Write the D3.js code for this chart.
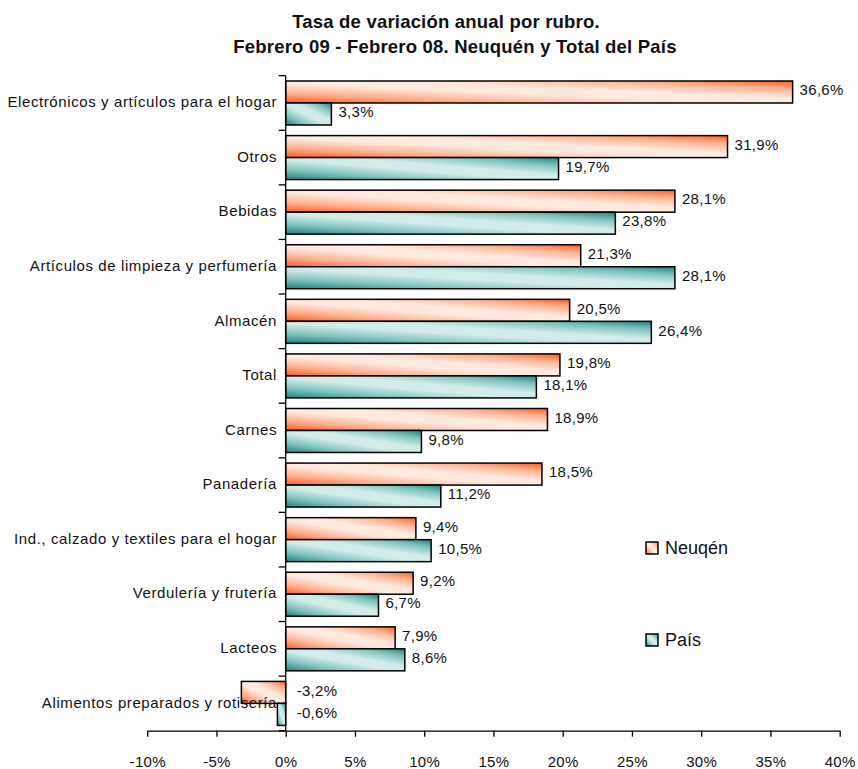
<!DOCTYPE html>
<html>
<head>
<meta charset="utf-8">
<style>
  body { margin: 0; background: #fff; }
  svg text { font-family: "Liberation Sans", Arial, sans-serif; fill: #111; }
  .cat { font-size: 15px; letter-spacing: 0.6px; }
  .val { font-size: 15px; letter-spacing: 0.3px; }
  .tick text { font-size: 15px; letter-spacing: 0.3px; }
  .title { font-size: 18.5px; font-weight: bold; letter-spacing: 0.2px; }
  .legend { font-size: 18px; }
</style>
</head>
<body>
<div id="chart"></div>
<script src="https://cdn.jsdelivr.net/npm/d3@7"></script>
<script>
// data
var categories = [
  "Electrónicos y artículos para el hogar",
  "Otros",
  "Bebidas",
  "Artículos de limpieza y perfumería",
  "Almacén",
  "Total",
  "Carnes",
  "Panadería",
  "Ind., calzado y textiles para el hogar",
  "Verdulería y frutería",
  "Lacteos",
  "Alimentos preparados y rotisería"
];
var neuquen = [36.6, 31.9, 28.1, 21.3, 20.5, 19.8, 18.9, 18.5, 9.4, 9.2, 7.9, -3.2];
var pais    = [3.3, 19.7, 23.8, 28.1, 26.4, 18.1, 9.8, 11.2, 10.5, 6.7, 8.6, -0.6];
var seriesNames = ["Neuqén", "País"];
var xTicks = [-10, -5, 0, 5, 10, 15, 20, 25, 30, 35, 40];

var width = 858, height = 769;
var svg = d3.select("#chart").append("svg")
    .attr("width", width)
    .attr("height", height);

var x = d3.scaleLinear().domain([-10, 40]).range([147.2, 839.7]);
var y = d3.scaleBand().domain(categories).range([75.7, 730.7]);
var ySub = d3.scaleBand().domain(seriesNames).range([5.3, y.bandwidth() - 5.3]);

// gradients, diagonal: dark corners, light middle
var defs = svg.append("defs");
var grads = [
  {id: "gN", dark: "#ff5a1f", mid: "#ffb08e", light: "#ffeae0"},
  {id: "gP", dark: "#1f7f7d", mid: "#7dc2bd", light: "#d2ece9"}
];
grads.forEach(function(g){
  var lg = defs.append("linearGradient")
    .attr("id", g.id)
    .attr("x1", 0).attr("y1", 1).attr("x2", 1).attr("y2", 0);
  lg.append("stop").attr("offset", "0%").attr("stop-color", g.dark);
  lg.append("stop").attr("offset", "22%").attr("stop-color", g.mid);
  lg.append("stop").attr("offset", "45%").attr("stop-color", g.light);
  lg.append("stop").attr("offset", "60%").attr("stop-color", g.light);
  lg.append("stop").attr("offset", "82%").attr("stop-color", g.mid);
  lg.append("stop").attr("offset", "100%").attr("stop-color", g.dark);
});

var rows = categories.map(function(c, i){
  return {cat: c, vals: [
    {s: seriesNames[0], v: neuquen[i], fill: "url(#gN)"},
    {s: seriesNames[1], v: pais[i], fill: "url(#gP)"}
  ]};
});

var fmt = function(v){
  return d3.format(".1f")(v).replace(".", ",").replace("\u2212", "-") + "%";
};

// bars
var g = svg.selectAll(".row")
  .data(rows)
  .enter().append("g")
    .attr("class", "row")
    .attr("transform", function(d){ return "translate(0," + y(d.cat) + ")"; });

g.selectAll("rect")
  .data(function(d){ return d.vals; })
  .enter().append("rect")
    .attr("x", function(d){ return x(Math.min(0, d.v)); })
    .attr("y", function(d){ return ySub(d.s); })
    .attr("width", function(d){ return Math.abs(x(d.v) - x(0)); })
    .attr("height", ySub.bandwidth())
    .attr("fill", function(d){ return d.fill; })
    .attr("stroke", "#000")
    .attr("stroke-width", 1.5);

g.selectAll(".val")
  .data(function(d){ return d.vals; })
  .enter().append("text")
    .attr("class", "val")
    .attr("x", function(d){ return d.v >= 0 ? x(d.v) + 7 : x(0) + 11; })
    .attr("y", function(d){ return ySub(d.s) + ySub.bandwidth() / 2 - 2; })
    .attr("dy", "0.35em")
    .text(function(d){ return fmt(d.v); });

// category labels
svg.selectAll(".cat")
  .data(categories)
  .enter().append("text")
    .attr("class", "cat")
    .attr("x", 277)
    .attr("y", function(d){ return y(d) + y.bandwidth() / 2 - 1; })
    .attr("dy", "0.35em")
    .attr("text-anchor", "end")
    .text(function(d){ return d; });

// y axis line with ticks between categories
svg.append("line")
  .attr("x1", x(0)).attr("x2", x(0))
  .attr("y1", y.range()[0]).attr("y2", y.range()[1])
  .attr("stroke", "#000").attr("stroke-width", 1.3);
var bounds = categories.map(function(c){ return y(c); }).concat([y.range()[1]]);
svg.selectAll(".ytick")
  .data(bounds)
  .enter().append("line")
    .attr("class", "ytick")
    .attr("x1", x(0) - 7).attr("x2", x(0))
    .attr("y1", function(d){ return d; }).attr("y2", function(d){ return d; })
    .attr("stroke", "#000").attr("stroke-width", 1.3);

// x axis
var xAxis = d3.axisBottom(x)
  .tickValues(xTicks)
  .tickFormat(function(d){ return d + "%"; })
  .tickSize(6)
  .tickSizeOuter(0)
  .tickPadding(20);
var ax = svg.append("g")
  .attr("transform", "translate(0," + y.range()[1] + ")")
  .call(xAxis);
ax.select(".domain").attr("stroke", "#000").attr("stroke-width", 1.3);
ax.selectAll(".tick line").attr("stroke", "#000").attr("stroke-width", 1.3);
ax.selectAll(".tick text").attr("fill", "#111").style("font-family", null);

// title
svg.append("text").attr("class", "title")
  .attr("x", 446).attr("y", 28).attr("text-anchor", "middle")
  .text("Tasa de variación anual por rubro.");
svg.append("text").attr("class", "title")
  .attr("x", 455).attr("y", 53).attr("text-anchor", "middle")
  .text("Febrero 09 - Febrero 08. Neuquén y Total del País");

// legend
var legendY = [542, 634];
var lg = svg.selectAll(".leg")
  .data(seriesNames)
  .enter().append("g")
    .attr("class", "leg")
    .attr("transform", function(d, i){ return "translate(646," + legendY[i] + ")"; });
lg.append("rect")
  .attr("width", 12).attr("height", 12)
  .attr("fill", function(d, i){ return i === 0 ? "url(#gN)" : "url(#gP)"; })
  .attr("stroke", "#000").attr("stroke-width", 1.5);
lg.append("text")
  .attr("class", "legend")
  .attr("x", 19).attr("y", 6).attr("dy", "0.35em")
  .text(function(d){ return d; });
</script>
</body>
</html>
